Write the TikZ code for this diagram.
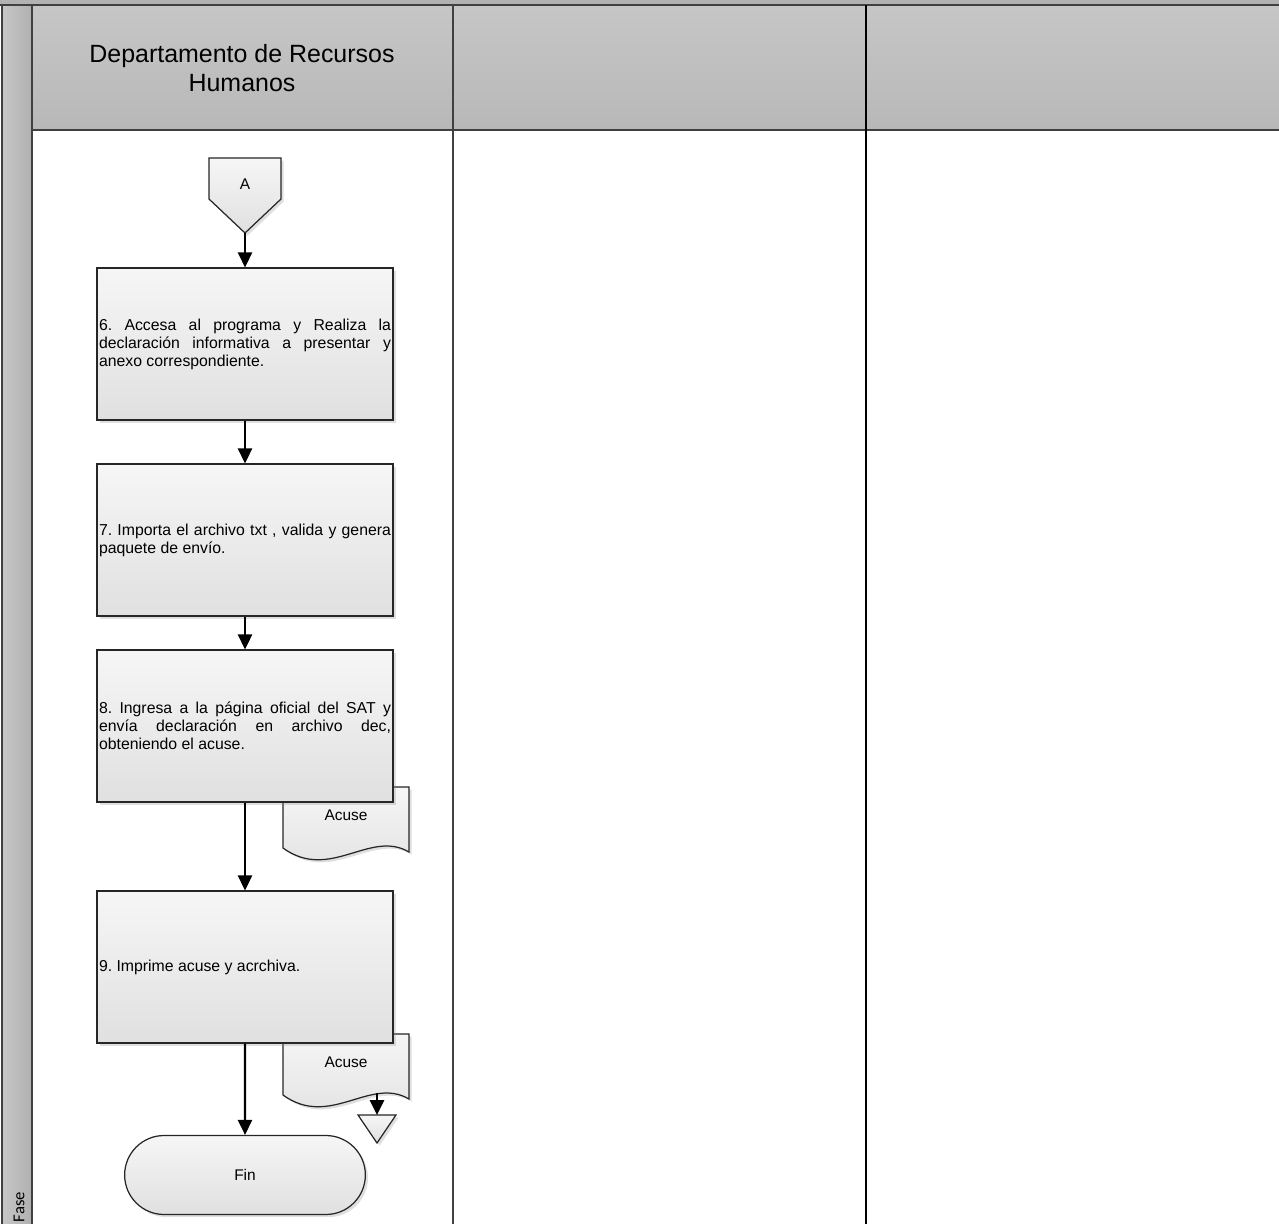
\documentclass[tikz,border=0pt]{standalone}
\usepackage{fontspec}
\setmainfont{Liberation Sans}
\newfontfamily\fasefont{Carlito}
\usepackage{tikz}
\usetikzlibrary{arrows.meta,positioning,shapes.misc,shadows}
\definecolor{lane}{RGB}{64,64,64}
\definecolor{headtop}{RGB}{198,198,198}
\definecolor{headbot}{RGB}{184,184,184}
\definecolor{boxtop}{RGB}{246,246,246}
\definecolor{boxbot}{RGB}{224,224,224}
\frenchspacing
\hyphenpenalty=10000
\exhyphenpenalty=10000
\tolerance=10000

\begin{document}
\begin{tikzpicture}[x=0.02cm,y=-0.02cm,
    laneline/.style={draw=lane,line width=1.1pt},
    shapefill/.style={draw=black!85,line width=0.7pt,top color=boxtop,bottom color=boxbot,
      drop shadow={opacity=0.25,shadow xshift=1.5pt,shadow yshift=-1.5pt}},
    procbox/.style={shapefill,rectangle,minimum width=5.92cm,minimum height=3.04cm,
      text width=5.84cm,align=justify,inner sep=1pt,font=\fontsize{9}{10.2}\selectfont},
    smalltext/.style={font=\fontsize{8.8}{10}\selectfont},
    flow/.style={-{Triangle[length=8.5pt,width=8pt]},line width=1.4pt}]
  \useasboundingbox (0,0) rectangle (1279,1224);
  % lanes
  \fill[black!30] (0,0) rectangle (1279,5);
  \shade[left color=black!22,right color=black!31] (2,5) rectangle (32,1224);
  \shade[top color=headtop,bottom color=headbot] (32,5) rectangle (1279,130);
  \draw[laneline] (0,5) -- (1279,5) (2,5) -- (2,1224) (32,5) -- (32,1224)
    (32,130) -- (1279,130) (453,5) -- (453,1224);
  \draw[line width=1.1pt] (866,5) -- (866,1224);
  \node[align=center,font=\fontsize{14.2}{16.4}\selectfont] (dept) at (242,68)
    {Departamento de Recursos\\Humanos};
  \node[rotate=90,font=\fasefont\fontsize{9.5}{10}\selectfont] (fase) at (19,1207) {Fase};

  % off-page connector
  \draw[shapefill] (209,158) -- (281,158) -- (281,199) -- (245,233) -- (209,199) -- cycle;
  \node[smalltext] (A) at (245,184) {A};
  \coordinate (Atip) at (245,233);

  % documents
  \foreach \n/\t in {1/787,2/1034} {
    \draw[shapefill] (283,\t) -- (409,\t) -- (409,\t+65)
      .. controls (370,\t+42) and (330,\t+95) .. (283,\t+61) -- cycle;
    \node[smalltext] (acuse\n) at (346,\t+28) {Acuse};
  }

  \node[procbox] (p6) at (245,344) {6. Accesa al programa y Realiza la declaración informativa a presentar y anexo correspondiente.};
  \node[procbox] (p7) at (245,540) {7. Importa el archivo txt , valida y genera paquete de envío.};
  \node[procbox] (p8) at (245,726) {8. Ingresa a la página oficial del SAT~y envía declaración en archivo dec, obteniendo el acuse.};
  \node[procbox] (p9) at (245,967) {9. Imprime acuse y acrchiva.};
  \node[shapefill,rounded rectangle,minimum width=5.05cm,minimum height=1.58cm,smalltext] (fin) at (245,1175) {Fin};

  % archive
  \draw[shapefill] (358,1115) -- (396,1115) -- (377,1143) -- cycle;
  \coordinate (archivo) at (377,1115);
  \coordinate (acuseout) at (377,1093);

  \draw[flow] (Atip) -- (p6.north);
  \draw[flow] (p6) -- (p7);
  \draw[flow] (p7) -- (p8);
  \draw[flow] (p8) -- (p9);
  \draw[flow] (p9.south) -- (fin);
  \draw[flow] (acuseout) -- (archivo);
\end{tikzpicture}
\end{document}
